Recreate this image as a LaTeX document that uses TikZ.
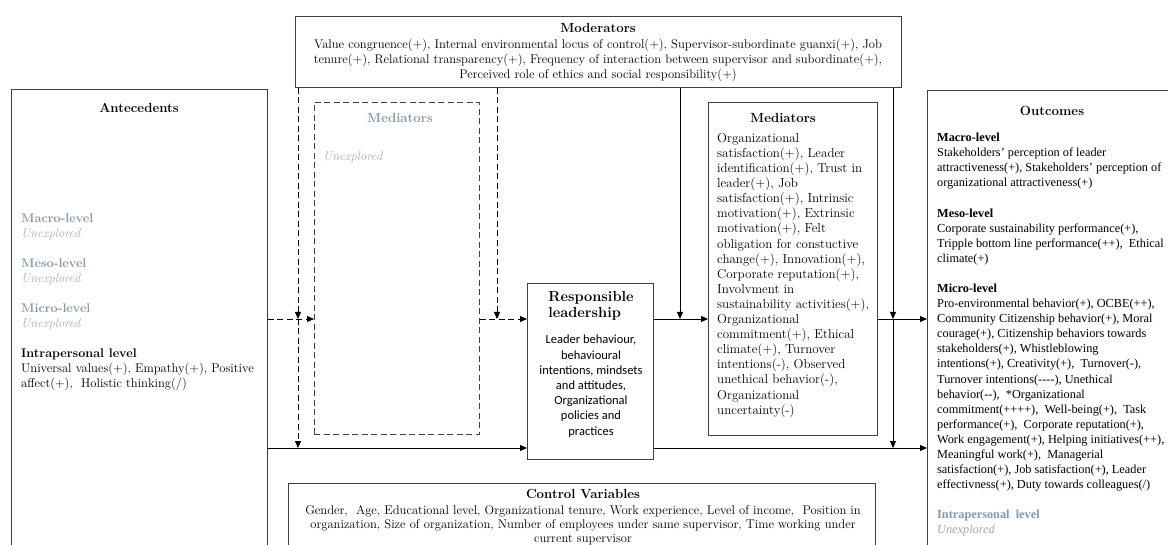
\documentclass[tikz,border=0pt]{standalone}
\usepackage{fontspec}
\newfontfamily\timesf{Liberation Serif}
\newfontfamily\calibf{Carlito}
\usetikzlibrary{arrows.meta}
\definecolor{gb}{HTML}{8497B0}
\definecolor{lgb}{HTML}{A3AEBF}
\definecolor{lgray}{HTML}{A6A6A6}
\definecolor{boxc}{HTML}{404040}
\tikzset{
  frame/.style={draw=boxc, line width=0.9pt, fill=white, inner sep=0pt, anchor=north west},
  dframe/.style={frame, draw=black!75, dash pattern=on 6pt off 3.5pt},
  conn/.style={draw=black, line width=0.9pt, -{Triangle[length=7pt,width=6pt]}},
  dconn/.style={conn, dash pattern=on 6pt off 3.5pt},
  txt/.style={inner sep=0pt, font=\fontsize{12.6}{15}\selectfont},
  ttl/.style={inner sep=0pt, font=\fontsize{13.2}{15}\selectfont\bfseries},
  otxt/.style={inner sep=0pt, font=\timesf\fontsize{12.3}{15.08}\selectfont},
  ctxt/.style={inner sep=0pt, font=\calibf\fontsize{12.5}{15.2}\selectfont},
}
\begin{document}
\begin{tikzpicture}[x=1pt,y=-1pt]
\clip (0,0) rectangle (1168,545);
\fill[white] (0,0) rectangle (1168,545);
% boxes
\node[frame, minimum width=606pt, minimum height=71pt] (mod) at (295,16) {};
\node[frame, minimum width=256pt, minimum height=480pt] (ant) at (11,89) {};
\node[dframe, minimum width=165pt, minimum height=332pt] (dmed) at (314,102) {};
\node[frame, minimum width=126pt, minimum height=176pt] (rl) at (527,283) {};
\node[frame, minimum width=169pt, minimum height=333pt] (med) at (708,102) {};
\node[frame, minimum width=260pt, minimum height=480pt] (out) at (927,90) {};
\node[frame, minimum width=587pt, minimum height=80pt] (ctrl) at (288,483) {};
% helper coordinates
\coordinate (ya) at (0,319);
\coordinate (yb) at (0,448);
\coordinate (xa) at (298,0);
\coordinate (xb) at (497,0);
\coordinate (xc) at (680,0);
\coordinate (xd) at (893,0);
% connectors
\draw[dconn] (ant.east |- ya) -- (dmed.west |- ya);
\draw[dconn] (dmed.east |- ya) -- (rl.west |- ya);
\draw[conn] (rl.east |- ya) -- (med.west |- ya);
\draw[conn] (med.east |- ya) -- (out.west |- ya);
\draw[conn] (ant.east |- yb) -- (rl.west |- yb);
\draw[conn] (rl.east |- yb) -- (out.west |- yb);
\draw[dconn] (xa |- mod.south) -- (xa |- ya);
\draw[dconn] (xa |- ya) -- (xa |- yb);
\draw[dconn] (xb |- mod.south) -- (xb |- ya);
\draw[conn] (xc |- mod.south) -- (xc |- ya);
\draw[conn] (xd |- mod.south) -- (xd |- ya);
\draw[conn] (xd |- ya) -- (xd |- yb);
% moderators text
\node[ttl, anchor=north] (modt) at (598,23) {Moderators};
\node[txt, anchor=north, align=center] (modx) at (598,39) {%
Value congruence(+), Internal environmental locus of control(+), Supervisor-subordinate guanxi(+), Job\\
tenure(+), Relational transparency(+), Frequency of interaction between supervisor and subordinate(+),\\
Perceived role of ethics and social responsibility(+)};
% antecedents
\node[ttl, anchor=north] (antt) at (139,103) {Antecedents};
\node[txt, anchor=north west, align=left] (antx) at (21,214) {%
{\color{gb}\bfseries Macro-level}\\
{\color{lgb}\itshape Unexplored}\\[15pt]
{\color{gb}\bfseries Meso-level}\\
{\color{lgb}\itshape Unexplored}\\[15pt]
{\color{gb}\bfseries Micro-level}\\
{\color{lgb}\itshape Unexplored}\\[15pt]
{\bfseries Intrapersonal level}\\
Universal values(+), Empathy(+), Positive\\
affect(+), \ Holistic thinking(/)};
% dashed mediators
\node[ttl, anchor=north, text=gb] (dmedt) at (400,113) {Mediators};
\node[txt, anchor=north west, text=lgb, font=\fontsize{12.6}{15}\selectfont\itshape] (dmedx) at (323,152) {Unexplored};
% responsible leadership
\node[inner sep=0pt, anchor=north, align=left, font=\fontsize{14.6}{16}\selectfont\bfseries] (rlt) at (591,291) {Responsible\\leadership};
\node[ctxt, anchor=north, align=center] (rlx) at (591,335) {%
Leader behaviour,\\
behavioural\\
intentions, mindsets\\
and attitudes,\\
Organizational\\
policies and\\
practices};
% mediators
\node[ttl, anchor=north] (medt) at (783,113) {Mediators};
\node[txt, anchor=north west, align=left, font=\fontsize{13}{15.1}\selectfont] (medx) at (717,133) {%
Organizational\\
satisfaction(+), Leader\\
identification(+), Trust in\\
leader(+), Job\\
satisfaction(+), Intrinsic\\
motivation(+), Extrinsic\\
motivation(+), Felt\\
obligation for constuctive\\
change(+), Innovation(+),\\
Corporate reputation(+),\\
Involvment in\\
sustainability activities(+),\\
Organizational\\
commitment(+), Ethical\\
climate(+), Turnover\\
intentions(-), Observed\\
unethical behavior(-),\\
Organizational\\
uncertainty(-)};
% outcomes
\node[ttl, anchor=north] (outt) at (1052,106) {Outcomes};
\node[otxt, anchor=north west, align=left] (outx) at (937,133) {%
{\bfseries Macro-level}\\
Stakeholders’ perception of leader\\
attractiveness(+), Stakeholders’ perception of\\
organizational attractiveness(+)\\[15.08pt]
{\bfseries Meso-level}\\
Corporate sustainability performance(+),\\
Tripple bottom line performance(++), \ Ethical\\
climate(+)\\[15.08pt]
{\bfseries Micro-level}\\
Pro-environmental behavior(+), OCBE(++),\\
Community Citizenship behavior(+), Moral\\
courage(+), Citizenship behaviors towards\\
stakeholders(+), Whistleblowing\\
intentions(+), Creativity(+), \ Turnover(-),\\
Turnover intentions(-{}-{}-{}-), Unethical\\
behavior(-{}-), \ *Organizational\\
commitment(++++), \ Well-being(+), \ Task\\
performance(+), \ Corporate reputation(+),\\
Work engagement(+), Helping initiatives(++),\\
Meaningful work(+), \ Managerial\\
satisfaction(+), Job satisfaction(+), Leader\\
effectivness(+), Duty towards colleagues(/)\\[15.08pt]
{\color{gb}\bfseries Intrapersonal \ level}\\
{\color{lgray}\itshape Unexplored}};
% control variables
\node[ttl, anchor=north] (ctrlt) at (583,489) {Control Variables};
\node[txt, anchor=north, align=center, font=\fontsize{12.6}{14}\selectfont] (ctrlx) at (583,505) {%
Gender, \ Age, Educational level, Organizational tenure, Work experience, Level of income, \ Position in\\
organization, Size of organization, Number of employees under same supervisor, Time working under\\
current supervisor};
\end{tikzpicture}
\end{document}
